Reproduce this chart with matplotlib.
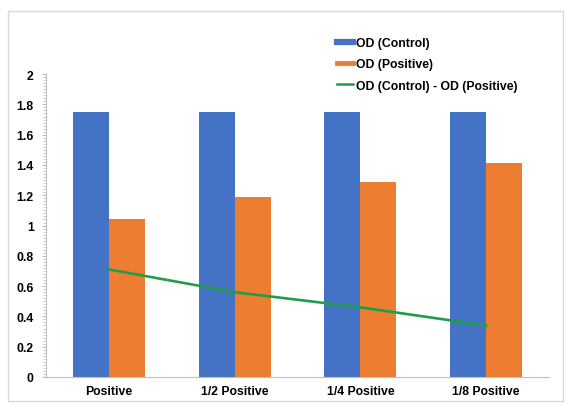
import matplotlib
matplotlib.use("Agg")
from matplotlib import pyplot as plt
from matplotlib.lines import Line2D
from matplotlib.patches import Rectangle
from matplotlib.ticker import MultipleLocator
import numpy as np

categories = ["Positive", "1/2 Positive", "1/4 Positive", "1/8 Positive"]
od_control = [1.75, 1.75, 1.75, 1.75]
od_positive = [1.04, 1.19, 1.29, 1.41]
od_diff = [0.71, 0.56, 0.46, 0.34]

blue = "#4472C4"
orange = "#ED7D31"
green = "#1f9e4a"

plt.rcParams["font.family"] = ["Liberation Sans", "DejaVu Sans"]
plt.rcParams["font.weight"] = "bold"

fig = plt.figure(figsize=(5.7, 4.06), dpi=100)
ax = fig.add_axes([0.081, 0.069, 0.882, 0.746])

# rahmen oko cijelog grafikona
fig.patches.append(Rectangle((0.014, 0.01), 0.974, 0.96, transform=fig.transFigure,
                             fill=False, edgecolor="#d9d9d9", lw=1))

x = np.arange(len(categories))
w = 0.286
ax.bar(x - w / 2, od_control, w, color=blue)
ax.bar(x + w / 2, od_positive, w, color=orange)
ax.plot(x, od_diff, color=green, lw=1.9)

ax.set_xlim(-0.5, 3.5)
ax.set_ylim(0, 2)
ax.yaxis.set_minor_locator(MultipleLocator(0.02))
yt = np.arange(0, 2.01, 0.2).round(1)
ax.set_yticks(yt)
ax.set_yticklabels([f"{v:g}" for v in yt])
ax.set_xticks(x)
ax.set_xticklabels(categories)

for s in ["top", "right"]:
    ax.spines[s].set_visible(False)
ax.spines["left"].set_color("#bfbfbf")
ax.spines["bottom"].set_color("#bfbfbf")
ax.tick_params(axis="x", length=0, labelsize=8.8, pad=6)
ax.tick_params(axis="y", which="major", length=3, color="#bfbfbf", labelsize=8.8, pad=6)
ax.tick_params(axis="y", which="minor", length=2, color="#bfbfbf")

handles = [Line2D([], [], color=blue, lw=4.5),
           Line2D([], [], color=orange, lw=3.5),
           Line2D([], [], color=green, lw=1.8)]
labels = ["OD (Control)", "OD (Positive)", "OD (Control) - OD (Positive)"]
fig.legend(handles, labels, loc="upper left", bbox_to_anchor=(0.582, 0.918),
           frameon=False, fontsize=8.8, handlelength=1.35, handletextpad=0.25,
           labelspacing=0.75, borderaxespad=0)

fig.savefig("out.png", dpi=100)
